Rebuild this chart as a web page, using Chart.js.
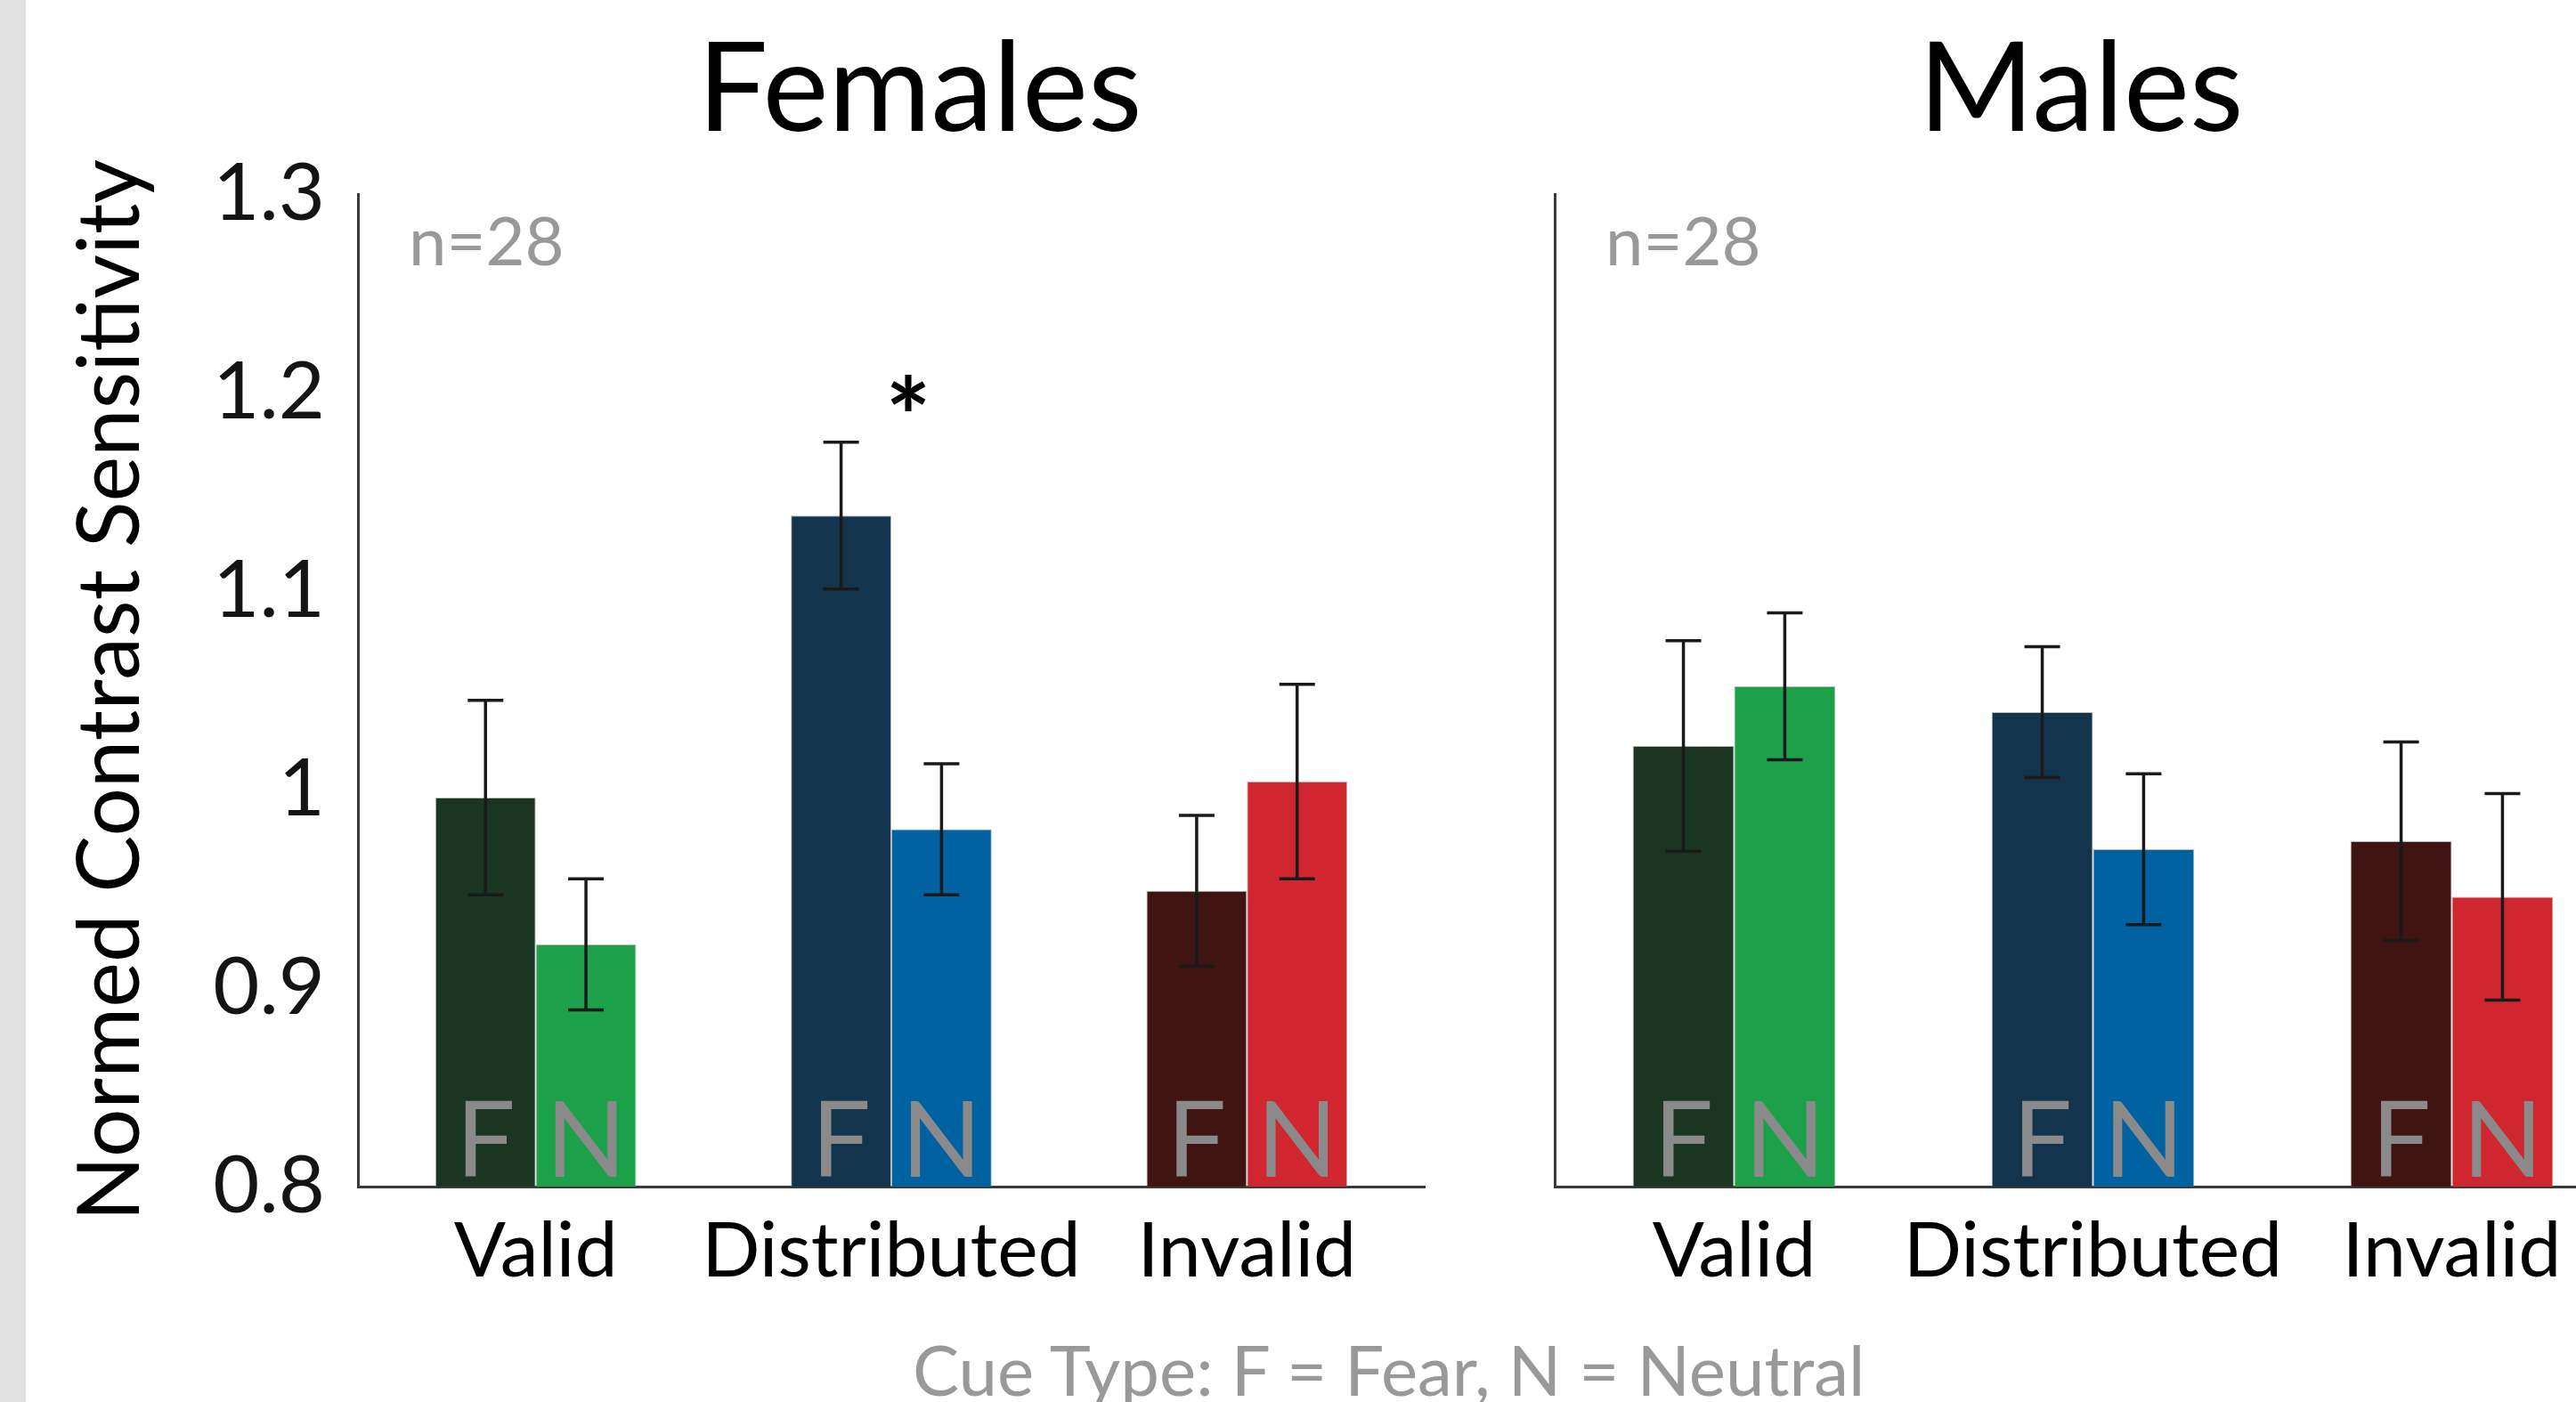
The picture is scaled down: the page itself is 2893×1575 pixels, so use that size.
<!DOCTYPE html>
<html>
<head>
<meta charset="utf-8">
<script src="https://cdn.jsdelivr.net/npm/chart.js@4.4.1/dist/chart.umd.min.js"></script>
<style>
  html, body { margin: 0; padding: 0; background: #fff; width: 2893px; height: 1575px; overflow: hidden; position: relative; }
  #strip { position: absolute; left: 0; top: 0; width: 29px; height: 1575px; background: #e1e1e1; z-index: 2; }
  #females { position: absolute; left: 0; top: 0; }
  #males { position: absolute; left: 1660px; top: 0; }
  #caption { position: absolute; left: 1025px; width: 1000px; top: 1499px; text-align: center;
             font: 78px Lato; line-height: 1; color: #999; white-space: nowrap; }
</style>
</head>
<body>
<div id="strip"></div>
<canvas id="females" width="1660" height="1575"></canvas>
<canvas id="males" width="1295" height="1575"></canvas>
<div id="caption">Cue Type: F = Fear, N = Neutral</div>
<script>
'use strict';

const cueTypes = ['Valid', 'Distributed', 'Invalid'];
const cueLetters = ['F', 'N'];
const yTickValues = [0.8, 0.9, 1.0, 1.1, 1.2, 1.3];
const yTickLabels = ['0.8', '0.9', '1', '1.1', '1.2', '1.3'];

const femalesFear = [0.996, 1.138, 0.949];
const femalesFearErr = [0.049, 0.037, 0.038];
const femalesNeutral = [0.922, 0.980, 1.004];
const femalesNeutralErr = [0.033, 0.033, 0.049];

const malesFear = [1.022, 1.039, 0.974];
const malesFearErr = [0.053, 0.033, 0.050];
const malesNeutral = [1.052, 0.970, 0.946];
const malesNeutralErr = [0.037, 0.038, 0.052];

const fearColors = ['#1a3522', '#12344d', '#3f1413'];
const neutralColors = ['#1ca14a', '#0062a0', '#d0262f'];

Chart.defaults.font.family = 'Lato';
Chart.defaults.color = '#000';

// error bars, F/N letters, panel title, n note and the asterisk
const panelMarks = {
    id: 'panelMarks',
    afterDatasetsDraw: function (chart, args, opts) {
        var ctx = chart.ctx;
        var xs = chart.scales.x;
        var ys = chart.scales.y;
        var area = chart.chartArea;
        var base = ys.getPixelForValue(ys.min);

        ctx.save();
        chart.data.datasets.forEach(function (ds, i) {
            chart.getDatasetMeta(i).data.forEach(function (bar, j) {
                ctx.fillStyle = '#8a8a8a';
                ctx.font = '118px Lato';
                ctx.textAlign = 'center';
                ctx.textBaseline = 'alphabetic';
                ctx.fillText(ds.letter, bar.x, base - 11);

                var top = ys.getPixelForValue(ds.data[j] + ds.errors[j]);
                var bot = ys.getPixelForValue(ds.data[j] - ds.errors[j]);
                ctx.strokeStyle = '#1a1a1a';
                ctx.lineWidth = 3.5;
                ctx.beginPath();
                ctx.moveTo(bar.x, top);
                ctx.lineTo(bar.x, bot);
                ctx.moveTo(bar.x - 20, top);
                ctx.lineTo(bar.x + 20, top);
                ctx.moveTo(bar.x - 20, bot);
                ctx.lineTo(bar.x + 20, bot);
                ctx.stroke();
            });
        });

        ctx.fillStyle = '#000';
        ctx.font = '140px Lato';
        ctx.textAlign = 'center';
        ctx.fillText(opts.title, area.left + opts.titleOffset, 147);

        ctx.fillStyle = '#999';
        ctx.font = '76px Lato';
        ctx.textAlign = 'left';
        ctx.fillText(opts.note, area.left + 57, area.top + 80);

        if (opts.starIndex !== undefined) {
            ctx.fillStyle = '#000';
            ctx.font = 'bold 120px Lato';
            ctx.textAlign = 'center';
            var m = ctx.measureText('*');
            var cy = ys.getPixelForValue(1.2);
            ctx.fillText('*', xs.getPixelForValue(opts.starIndex) + 19,
                cy + (m.actualBoundingBoxAscent - m.actualBoundingBoxDescent) / 2);
        }
        ctx.restore();
    }
};

function DrawPanel(id, fear, fearErr, neutral, neutralErr, marks, showTicks, padRight) {
    var ctx = document.getElementById(id).getContext('2d');
    return new Chart(ctx, {
        type: 'bar',
        data: {
            labels: cueTypes,
            datasets: [{
                data: fear,
                errors: fearErr,
                letter: cueLetters[0],
                backgroundColor: fearColors,
                borderColor: 'rgba(140,140,140,0.6)',
                borderWidth: 1
            }, {
                data: neutral,
                errors: neutralErr,
                letter: cueLetters[1],
                backgroundColor: neutralColors,
                borderColor: 'rgba(140,140,140,0.6)',
                borderWidth: 1
            }]
        },
        options: {
            responsive: false,
            animation: false,
            devicePixelRatio: 1,
            categoryPercentage: 0.565,
            barPercentage: 1,
            layout: {
                padding: { top: 218, right: padRight, bottom: 0, left: 0 }
            },
            plugins: {
                legend: { display: false },
                tooltip: { enabled: false },
                panelMarks: marks
            },
            scales: {
                x: {
                    grid: { display: false, drawTicks: false },
                    border: { display: true, color: '#3a3a3a', width: 3 },
                    ticks: {
                        padding: 22,
                        color: '#000',
                        autoSkip: false,
                        maxRotation: 0,
                        minRotation: 0,
                        font: { size: 86 }
                    },
                    afterFit: function (s) { s.height = 242; }
                },
                y: {
                    min: 0.8,
                    max: 1.3,
                    grid: { display: false, drawTicks: false },
                    border: { display: true, color: '#3a3a3a', width: 3 },
                    afterBuildTicks: function (s) {
                        s.ticks = yTickValues.map(function (v) { return { value: v }; });
                    },
                    ticks: {
                        display: showTicks,
                        padding: 37,
                        color: '#141414',
                        font: { size: 90 },
                        callback: function (value, index) { return yTickLabels[index]; }
                    },
                    title: {
                        display: showTicks,
                        text: 'Normed Contrast Sensitivity',
                        color: '#000',
                        font: { size: 96 },
                        padding: { top: 67, bottom: 0 }
                    },
                    afterFit: function (s) { s.width = showTicks ? 402 : 86; }
                }
            }
        },
        plugins: [panelMarks]
    });
}

DrawPanel('females', femalesFear, femalesFearErr, femalesNeutral, femalesNeutralErr,
    { title: 'Females', titleOffset: 631, note: 'n=28', starIndex: 1 }, true, 60);
DrawPanel('males', malesFear, malesFearErr, malesNeutral, malesNeutralErr,
    { title: 'Males', titleOffset: 591, note: 'n=28' }, false, 0);
</script>
</body>
</html>
